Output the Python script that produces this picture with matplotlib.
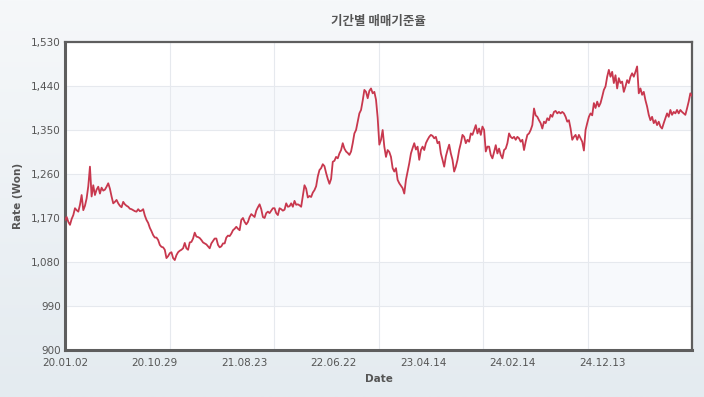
import numpy as np
import matplotlib
matplotlib.use("Agg")
import matplotlib.pyplot as plt

plt.rcParams['font.family'] = ['DejaVu Sans']

title = '기간별 매매기준율'
x_label = 'Date'
y_label = 'Rate (Won)'
date_labels = ['20.01.02', '20.10.29', '21.08.23', '22.06.22', '23.04.14', '24.02.14', '24.12.13']
y_ticks = [900, 990, 1080, 1170, 1260, 1350, 1440, 1530]

# rate, left to right, roughly evenly spaced
rate_2020 = [1166, 1172, 1162, 1156, 1168, 1176, 1190, 1186, 1183, 1197, 1217, 1186, 1195, 1210,
             1235, 1275, 1214, 1237, 1217, 1228, 1234, 1220, 1232, 1226, 1228, 1234, 1241, 1230,
             1214, 1200, 1203, 1207, 1200, 1195, 1192, 1203, 1198, 1195, 1193, 1189, 1188, 1186,
             1184, 1183, 1188, 1184, 1185, 1188, 1175, 1166, 1160, 1150, 1143, 1135, 1130, 1130,
             1125, 1115, 1111, 1110, 1105, 1088, 1092, 1098, 1100]
rate_2021 = [1088, 1084, 1094, 1100, 1103, 1105, 1108, 1119, 1108, 1105, 1120, 1121, 1128, 1140,
             1132, 1131, 1129, 1125, 1120, 1118, 1116, 1112, 1108, 1118, 1123, 1128, 1128, 1115,
             1110, 1112, 1118, 1118, 1130, 1134, 1133, 1138, 1145, 1148, 1152, 1148, 1145, 1166,
             1170, 1162, 1157, 1162, 1172, 1178, 1175, 1172, 1185, 1192, 1198, 1188, 1172, 1170,
             1180, 1183, 1180, 1185, 1190, 1190, 1180, 1176]
rate_2022 = [1190, 1188, 1185, 1187, 1200, 1193, 1194, 1200, 1193, 1205, 1197, 1198, 1196, 1193,
             1215, 1237, 1230, 1212, 1215, 1213, 1222, 1227, 1235, 1255, 1268, 1272, 1280, 1276,
             1262, 1250, 1240, 1250, 1285, 1287, 1295, 1292, 1302, 1309, 1323, 1312, 1306, 1303,
             1299, 1306, 1323, 1343, 1350, 1367, 1384, 1391, 1410, 1432, 1428, 1415, 1430, 1435,
             1425, 1428, 1412, 1375, 1320, 1330, 1350]
rate_2023 = [1316, 1295, 1309, 1305, 1295, 1272, 1265, 1272, 1248, 1241, 1236, 1231, 1220, 1248,
             1265, 1282, 1302, 1313, 1323, 1310, 1316, 1289, 1309, 1316, 1309, 1323, 1330, 1336,
             1340, 1338, 1333, 1336, 1323, 1326, 1302, 1289, 1275, 1296, 1309, 1320, 1302, 1289,
             1265, 1275, 1289, 1309, 1323, 1340, 1336, 1323, 1330, 1326, 1343, 1340, 1350, 1360,
             1343, 1353, 1340, 1357, 1350, 1306, 1316]
rate_2024 = [1316, 1299, 1292, 1305, 1319, 1302, 1312, 1299, 1292, 1309, 1312, 1323, 1343, 1336,
             1333, 1336, 1330, 1336, 1333, 1326, 1330, 1309, 1326, 1340, 1343, 1350, 1360, 1394,
             1380, 1377, 1370, 1364, 1353, 1367, 1364, 1374, 1370, 1381, 1377, 1387, 1389, 1384,
             1387, 1384, 1387, 1384, 1377, 1367, 1370, 1353, 1330, 1336, 1340, 1330, 1340, 1333,
             1326, 1308, 1350, 1364, 1377, 1384]
rate_2025 = [1380, 1405, 1395, 1408, 1398, 1405, 1418, 1432, 1439, 1459, 1473, 1459, 1469, 1446,
             1462, 1435, 1456, 1446, 1449, 1428, 1439, 1452, 1446, 1459, 1466, 1459, 1469, 1480,
             1425, 1435, 1422, 1428, 1411, 1398, 1381, 1370, 1377, 1364, 1370, 1360, 1367, 1357,
             1353, 1364, 1374, 1384, 1377, 1391, 1381, 1387, 1384, 1391, 1384, 1391, 1387, 1384,
             1381, 1394, 1408, 1425, 1420]

rate = rate_2020 + rate_2021 + rate_2022 + rate_2023 + rate_2024 + rate_2025
n = len(rate)
idx = np.arange(n)

fig = plt.figure(figsize=(7.04, 3.97), dpi=100)

# soft vertical gradient behind everything
bg = fig.add_axes([0, 0, 1, 1], zorder=-10)
grad = np.linspace(0, 1, 256).reshape(-1, 1)
bg.imshow(grad, aspect='auto', cmap=matplotlib.colors.LinearSegmentedColormap.from_list(
    'bg', ['#f6f8fa', '#e4ebf0']), extent=[0, 1, 0, 1])
bg.axis('off')

ax = fig.add_axes([65 / 704, 1 - 350 / 397, 627 / 704, 308 / 397])
ax.set_facecolor('white')

# alternating bands
for lo in [990, 1170, 1350]:
    ax.axhspan(lo, lo + 90, color='#f7f9fc', zorder=0, lw=0)

for k in range(1, 6):
    ax.axvline(k * (n - 1) / 6, color='#e6e9ee', lw=0.8, zorder=1)
for yv in y_ticks[1:-1]:
    ax.axhline(yv, color='#e6e9ee', lw=0.8, zorder=1)

ax.plot(idx, rate, color='#c8384e', lw=1.3, zorder=3)

ax.set_xlim(0, n - 1)
ax.set_ylim(900, 1530)
ax.set_yticks(y_ticks)
ax.set_yticklabels([f'{v:,}' for v in y_ticks])
tick_pos = [i * (n - 1) / 7 for i in range(len(date_labels))]
ax.set_xticks(tick_pos)
ax.set_xticklabels(date_labels)
ax.tick_params(length=0, labelsize=7.5, labelcolor='#555555')
ax.tick_params(axis='x', pad=6)
ax.tick_params(axis='y', pad=3)

for s in ax.spines.values():
    s.set_color('#5e5e5e')
    s.set_linewidth(1.6)
ax.spines['left'].set_linewidth(2.2)
ax.spines['bottom'].set_linewidth(2.2)

ax.set_xlabel(x_label, fontsize=7.5, fontweight='bold', color='#555555', labelpad=4)
ax.set_ylabel(y_label, fontsize=7.5, fontweight='bold', color='#555555', labelpad=6)
ax.set_title(title, fontsize=9, fontweight='bold', color='#555555', pad=12,
             family=['Noto Sans CJK KR', 'DejaVu Sans'])

fig.savefig('out.png', dpi=100)
